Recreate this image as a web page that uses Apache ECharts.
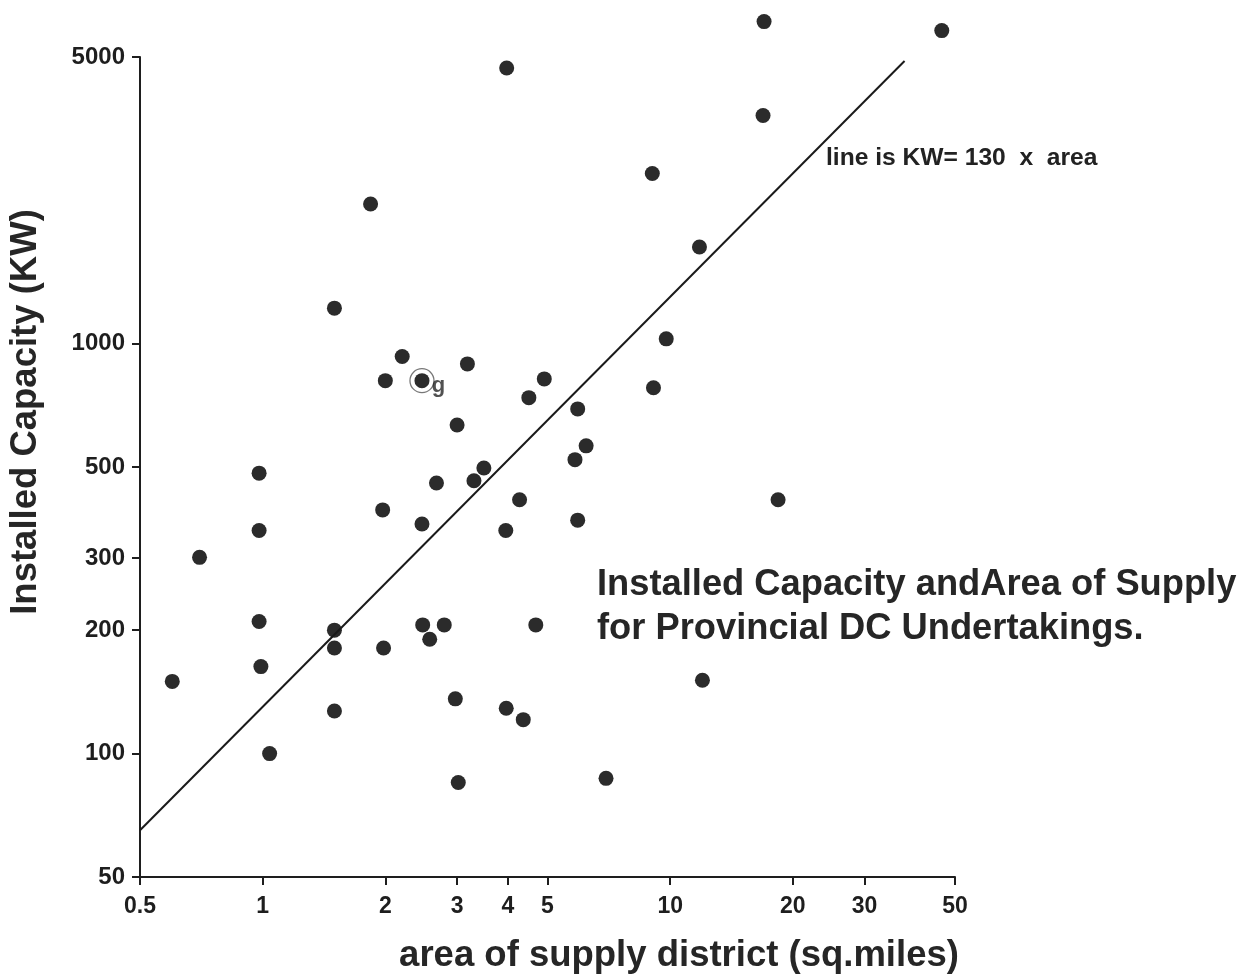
<!DOCTYPE html>
<html>
<head>
<meta charset="utf-8">
<script src="https://cdn.jsdelivr.net/npm/echarts@6/dist/echarts.min.js"></script>
<style>
html,body{margin:0;padding:0;background:#ffffff;}
#chart{width:1259px;height:977px;}
</style>
</head>
<body>
<div id="chart"></div>
<script>
// ---- data ----
const areas = [17, 46.4, 3.97, 16.9, 9.04, 1.84, 11.8, 1.5, 9.78, 2.2, 3.18, 2.0, 2.46, 4.91, 9.1, 4.5, 5.93, 3.0, 6.22, 5.84, 0.98,
  3.49, 2.67, 3.3, 4.27, 18.4, 1.97, 2.46, 0.98, 3.95, 5.93, 0.7, 0.98, 1.5, 2.47, 2.79, 4.68, 2.57, 1.5, 1.98, 0.99,
  0.6, 12, 2.97, 1.5, 3.96, 4.36, 1.04, 3.02, 6.96];
const capacities = [6100, 5800, 4700, 3600, 2600, 2190, 1720, 1220, 1027, 930, 892, 812, 812, 820, 780, 738, 693, 633, 563, 521, 483,
  497, 457, 463, 416, 416, 393, 363, 350, 350, 371, 301, 210, 200, 206, 206, 206, 190, 181, 181, 163,
  150, 151, 136, 127, 129, 121, 100, 85, 87];
const markedArea = [2.46];
const markedCapacity = [812];
const markedLabel = ['g'];
const fitSlope = 130;             // KW = 130 x area
const fitAreaEnds = [0.5, 37.6];
const xTickValues = [0.5, 1, 2, 3, 4, 5, 10, 20, 30, 50];
const xTickLabels = ['0.5', '1', '2', '3', '4', '5', '10', '20', '30', '50'];
const yTickValues = [50, 100, 200, 300, 500, 1000, 5000];
const yTickLabels = ['50', '100', '200', '300', '500', '1000', '5000'];
const titleLines = ['Installed Capacity andArea of Supply', 'for Provincial DC Undertakings.'];
const lineNote = 'line is KW= 130  x  area';
const xName = 'area of supply district (sq.miles)';
const yName = 'Installed Capacity (KW)';

// ---- build ----
const pts = areas.map((a, i) => [a, capacities[i]]);
const marked = markedArea.map((a, i) => ({ value: [a, markedCapacity[i]], name: markedLabel[i] }));
const fitLine = fitAreaEnds.map(a => [a, fitSlope * a]);

function lookup(vals, labels, v) {
  for (let i = 0; i < vals.length; i++) {
    if (Math.abs(vals[i] - v) / vals[i] < 1e-3) return labels[i];
  }
  return '';
}

const ink = '#1e1e1e';
const font = '"Liberation Sans", Arial, Helvetica, sans-serif';

const chart = echarts.init(document.getElementById('chart'), null, { renderer: 'canvas' });
chart.setOption({
  backgroundColor: '#ffffff',
  animation: false,
  title: {
    text: titleLines.join('\n'),
    left: 597, top: 563, padding: 0,
    textStyle: { fontFamily: font, fontWeight: 'bold', fontSize: 36.3, lineHeight: 44, color: '#262626' }
  },
  grid: { left: 140, top: 57, width: 815, height: 820, containLabel: false, outerBoundsMode: 'none' },
  xAxis: {
    type: 'log', logBase: 10, min: 0.5, max: 50,
    axisLine: { show: true, lineStyle: { color: ink, width: 2 } },
    axisTick: { show: true, length: 8, lineStyle: { color: ink, width: 2 }, customValues: xTickValues },
    axisLabel: {
      customValues: xTickValues, margin: 18,
      formatter: v => lookup(xTickValues, xTickLabels, v),
      fontFamily: font, fontWeight: 'bold', fontSize: 23, color: ink
    },
    splitLine: { show: false }, minorTick: { show: false }, minorSplitLine: { show: false }
  },
  yAxis: {
    type: 'log', logBase: 10, min: 50, max: 5000,
    axisLine: { show: true, lineStyle: { color: ink, width: 2 } },
    axisTick: { show: true, length: 8, lineStyle: { color: ink, width: 2 }, customValues: yTickValues },
    axisLabel: {
      customValues: yTickValues, margin: 15,
      formatter: v => lookup(yTickValues, yTickLabels, v),
      fontFamily: font, fontWeight: 'bold', fontSize: 24, color: ink
    },
    splitLine: { show: false }, minorTick: { show: false }, minorSplitLine: { show: false }
  },
  series: [
    {
      type: 'line', data: fitLine, symbol: 'none', clip: false,
      lineStyle: { color: '#1a1a1a', width: 2 }, silent: true
    },
    {
      type: 'scatter', data: pts, symbol: 'circle', symbolSize: 15, clip: false,
      itemStyle: { color: '#2b2b2b', opacity: 1 }
    },
    {
      type: 'scatter', data: marked, symbol: 'circle', symbolSize: 24, clip: false,
      itemStyle: { color: 'rgba(0,0,0,0)', borderColor: '#555', borderWidth: 1.3 },
      label: {
        show: true, position: 'right', distance: 0, offset: [-3, 5],
        formatter: p => p.name,
        fontFamily: font, fontWeight: 'bold', fontSize: 22, color: '#262626'
      }
    }
  ],
  graphic: [
    {
      type: 'text', left: 826, top: 146,
      style: { text: lineNote, fontFamily: font, fontWeight: 'bold', fontSize: 24.6, fill: '#222' }
    },
    {
      type: 'text', x: 679, y: 956,
      style: { text: xName, fontFamily: font, fontWeight: 'bold', fontSize: 36.5, fill: '#262626', align: 'center', verticalAlign: 'middle' }
    },
    {
      type: 'text', x: 26, y: 412, rotation: Math.PI / 2,
      style: { text: yName, fontFamily: font, fontWeight: 'bold', fontSize: 36.5, fill: '#262626', align: 'center', verticalAlign: 'middle' }
    }
  ]
});
</script>
</body>
</html>
